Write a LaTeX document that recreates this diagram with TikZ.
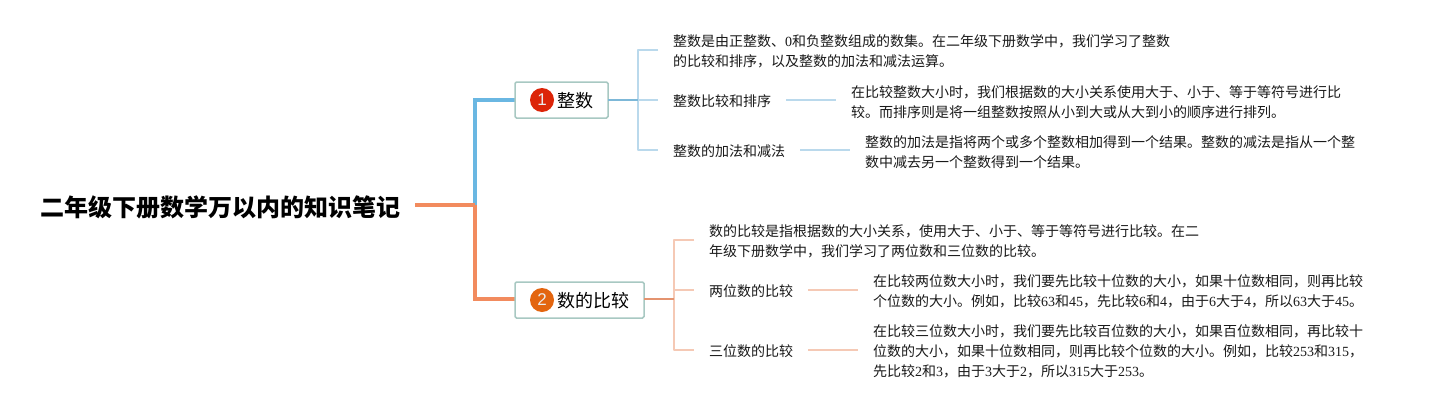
\documentclass[tikz,border=0pt]{standalone}
\usepackage{fontspec}
\setmainfont{Noto Sans CJK SC}
\newfontfamily\latf{Liberation Serif}
\newfontfamily\badgef{Liberation Sans}
\newcommand{\lat}[1]{{\latf #1}}
\definecolor{blueM}{HTML}{6AB7E2}
\definecolor{orangeM}{HTML}{F28B5E}
\definecolor{blueS}{HTML}{7DB8D8}
\definecolor{orangeS}{HTML}{E4936F}
\definecolor{blueL}{HTML}{BAD9EC}
\definecolor{orangeL}{HTML}{F5C9B5}
\definecolor{boxB}{HTML}{A8C8C2}
\definecolor{badgeR}{HTML}{DC2408}
\definecolor{badgeO}{HTML}{E3650F}
\tikzset{
  x=1pt,y=-1pt,
  leaf/.style={anchor=west,inner sep=0pt,outer sep=0pt,font=\fontsize{14}{20}\selectfont,align=left,text=black!90},
  topic/.style={draw=boxB,line width=1.5pt,rounded corners=1.5pt,fill=white,minimum height=36pt,inner sep=0pt,outer sep=0pt},
  toptext/.style={anchor=west,inner sep=0pt,font=\fontsize{18}{20}\selectfont},
  badge/.style={circle,minimum size=24pt,inner sep=0pt,text=white!92!black,font=\badgef\fontsize{17}{17}\selectfont},
  mainb/.style={line width=4pt,blueM,line join=miter},
  maino/.style={line width=4pt,orangeM,line join=miter},
  brb/.style={line width=1.6pt,blueL,line join=round},
  bro/.style={line width=1.6pt,orangeL,line join=round},
  stemb/.style={line width=1.6pt,blueS},
  stemo/.style={line width=1.6pt,orangeS},
}
\begin{document}
\begin{tikzpicture}
\useasboundingbox[fill=white] (0,0) rectangle (1433,410);
% junctions and free ends
\coordinate (rootout) at (415,205);
\coordinate (trunk) at (475,205);
\coordinate (bA) at (638,100);
\coordinate (bB) at (674,299);
\coordinate (a1) at (658,50);
\coordinate (a2) at (658,100);
\coordinate (a3) at (658,150);
\coordinate (b1) at (694,240);
\coordinate (b2) at (694,290);
\coordinate (b3) at (694,350);
\coordinate (x2a) at (786,100); \coordinate (x2b) at (836,100);
\coordinate (x3a) at (800,150); \coordinate (x3b) at (850,150);
\coordinate (x5a) at (808,290); \coordinate (x5b) at (858,290);
\coordinate (x6a) at (808,350); \coordinate (x6b) at (858,350);
% connectors under the boxes
\draw[mainb] (trunk) |- (515,100) coordinate (t1in);
\draw[maino] (trunk) |- (515,299) coordinate (t2in);
\draw[maino] (rootout) -- (trunk);
% nodes
\node[anchor=center,inner sep=0pt,font=\bfseries\fontsize{24}{24}\selectfont] (root) at (220.5,207.5) {二年级下册数学万以内的知识笔记};
\node[topic,minimum width=93pt] (t1) at (561.5,100) {};
\node[topic,minimum width=129pt] (t2) at (579.5,300) {};
\node[badge,fill=badgeR] (c1) at (542,100) {1};
\node[badge,fill=badgeO] (c2) at (542,300) {2};
\node[toptext] (t1txt) at (557,101) {整数};
\node[toptext] (t2txt) at (557,301) {数的比较};
\node[leaf] (l1) at (673,51.7) {整数是由正整数、\lat{0}和负整数组成的数集。在二年级下册数学中，我们学习了整数\\的比较和排序，以及整数的加法和减法运算。};
\node[leaf] (l2) at (673,100.8) {整数比较和排序};
\node[leaf] (l3) at (673,150.8) {整数的加法和减法};
\node[leaf] (d2) at (851,101.7) {在比较整数大小时，我们根据数的大小关系使用大于、小于、等于等符号进行比\\较。而排序则是将一组整数按照从小到大或从大到小的顺序进行排列。};
\node[leaf] (d3) at (865,151.7) {整数的加法是指将两个或多个整数相加得到一个结果。整数的减法是指从一个整\\数中减去另一个整数得到一个结果。};
\node[leaf] (m1) at (709,241.7) {数的比较是指根据数的大小关系，使用大于、小于、等于等符号进行比较。在二\\年级下册数学中，我们学习了两位数和三位数的比较。};
\node[leaf] (m2) at (709,290.8) {两位数的比较};
\node[leaf] (m3) at (709,350.8) {三位数的比较};
\node[leaf] (e2) at (873,291.7) {在比较两位数大小时，我们要先比较十位数的大小，如果十位数相同，则再比较\\个位数的大小。例如，比较\lat{63}和\lat{45}，先比较\lat{6}和\lat{4}，由于\lat{6}大于\lat{4}，所以\lat{63}大于\lat{45}。};
\node[leaf] (e3) at (873,351.7) {在比较三位数大小时，我们要先比较百位数的大小，如果百位数相同，再比较十\\位数的大小，如果十位数相同，则再比较个位数的大小。例如，比较\lat{253}和\lat{315}，\\先比较\lat{2}和\lat{3}，由于\lat{3}大于\lat{2}，所以\lat{315}大于\lat{253}。};
% connectors
\draw[brb] (a1) -| (bA) |- (a3);
\draw[brb] (bA) -- (a2);
\draw[stemb] (t1.east) -- (bA);
\draw[bro] (b1) -| (bB) |- (b3);
\draw[bro] (bB |- b2) -- (b2);
\draw[stemo] (t2.east |- bB) -- (bB);
\draw[brb] (x2a) -- (x2b);
\draw[brb] (x3a) -- (x3b);
\draw[bro] (x5a) -- (x5b);
\draw[bro] (x6a) -- (x6b);
\end{tikzpicture}
\end{document}
